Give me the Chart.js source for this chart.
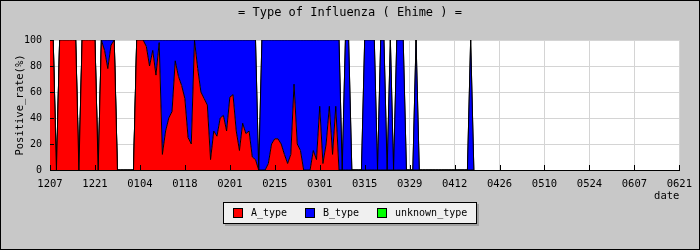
<!DOCTYPE html>
<html>
<head>
<meta charset="utf-8">
<script src="https://cdn.jsdelivr.net/npm/chart.js@4.4.0/dist/chart.umd.min.js"></script>
<style>
  html, body { margin: 0; padding: 0; background: #c8c8c8; }
</style>
</head>
<body>
<canvas id="chart" width="700" height="250"></canvas>
<script>
// one value per day, starting 12/07 (day 0)
const tickLabels = ['1207', '1221', '0104', '0118', '0201', '0215', '0301', '0315',
    '0329', '0412', '0426', '0510', '0524', '0607', '0621'];
const seriesNames = ['A_type', 'B_type', 'unknown_type'];
const seriesColors = ['#ff0000', '#0000ff', '#00ff00'];

const aType = [
    100, 100, 0, 100, 100, 100, 100,
    100, 100, 0, 100, 100, 100, 100,
    100, 0, 100, 92, 78, 96, 100,
    0, 0, 0, 0, 0, 0, 100,
    100, 100, 95, 80, 92, 73, 98,
    12, 30, 40, 45, 84, 72, 65,
    55, 25, 20, 100, 78, 60, 55,
    50, 8, 30, 26, 40, 42, 30,
    56, 58, 30, 15, 36, 28, 30,
    10, 8, 0, 0, 0, 5, 20,
    24, 24, 20, 12, 5, 12, 66,
    20, 15, 0, 0, 0, 15, 8,
    49, 5, 20, 49, 12, 49, 0,
    0, 0, 0, 0, 0, 0, 0,
    0, 0, 0, 0, 0, 0, 0,
    0, 0, 0, 0, 0, 0, 0,
    0, 0, 0, 0, 0, 0, 0,
    0, 0, 0, 0, 0, 0, 0,
    0, 0, 0, 0, 0, 0, 0
];
const bType = [
    0, 0, 0, 0, 0, 0, 0,
    0, 0, 0, 0, 0, 0, 0,
    0, 0, 0, 8, 22, 4, 0,
    0, 0, 0, 0, 0, 0, 0,
    0, 0, 5, 20, 8, 27, 2,
    88, 70, 60, 55, 16, 28, 35,
    45, 75, 80, 0, 22, 40, 45,
    50, 92, 70, 74, 60, 58, 70,
    44, 42, 70, 85, 64, 72, 70,
    90, 92, 0, 100, 100, 95, 80,
    76, 76, 80, 88, 95, 88, 34,
    80, 85, 100, 100, 100, 85, 92,
    51, 95, 80, 51, 88, 51, 100,
    0, 100, 100, 0, 0, 0, 0,
    100, 100, 100, 100, 0, 100, 100,
    0, 100, 0, 100, 100, 100, 0,
    0, 0, 100, 0, 0, 0, 0,
    0, 0, 0, 0, 0, 0, 0,
    0, 0, 0, 0, 0, 100, 0
];
const unknownType = [
    0, 0, 0, 0, 0, 0, 0,
    0, 0, 0, 0, 0, 0, 0,
    0, 0, 0, 0, 0, 0, 0,
    0, 0, 0, 0, 0, 0, 0,
    0, 0, 0, 0, 0, 0, 0,
    0, 0, 0, 0, 0, 0, 0,
    0, 0, 0, 0, 0, 0, 0,
    0, 0, 0, 0, 0, 0, 0,
    0, 0, 0, 0, 0, 0, 0,
    0, 0, 0, 0, 0, 0, 0,
    0, 0, 0, 0, 0, 0, 0,
    0, 0, 0, 0, 0, 0, 0,
    0, 0, 0, 0, 0, 0, 0,
    0, 0, 0, 0, 0, 0, 0,
    0, 0, 0, 0, 0, 0, 0,
    0, 0, 0, 0, 0, 0, 0,
    0, 0, 0, 0, 0, 0, 0,
    0, 0, 0, 0, 0, 0, 0,
    0, 0, 0, 0, 0, 0, 0
];

const MONO = "'DejaVu Sans Mono', monospace";
Chart.defaults.font.family = MONO;
Chart.defaults.color = '#000';

const toPoints = arr => arr.map((v, i) => ({ x: i, y: v }));

// background, frame, inward ticks and the boxed legend
const decor = {
    id: 'decor',
    beforeDraw(chart) {
        const { ctx, chartArea: a } = chart;
        ctx.save();
        ctx.fillStyle = '#c8c8c8';
        ctx.fillRect(0, 0, chart.width, chart.height);
        ctx.fillStyle = '#ffffff';
        ctx.fillRect(a.left, a.top, a.right - a.left, a.bottom - a.top);
        ctx.restore();
    },
    afterDraw(chart) {
        const { ctx, chartArea: a, scales: { x, y } } = chart;
        ctx.save();
        ctx.strokeStyle = '#000';
        ctx.lineWidth = 1;
        ctx.strokeRect(0.5, 0.5, chart.width - 1, chart.height - 1);

        ctx.beginPath();
        y.ticks.forEach(t => {
            const py = Math.round(y.getPixelForValue(t.value)) + 0.5;
            ctx.moveTo(a.left, py);
            ctx.lineTo(a.left + 4, py);
        });
        x.ticks.forEach(t => {
            const px = Math.round(x.getPixelForValue(t.value)) + 0.5;
            ctx.moveTo(px, a.bottom);
            ctx.lineTo(px, a.bottom - 5);
        });
        ctx.stroke();

        // legend box
        const bx = 223, by = 202, bw = 254, bh = 22;
        ctx.fillStyle = '#a0a0a0';
        ctx.fillRect(bx + 2, by + 2, bw, bh);
        ctx.fillStyle = '#f0f0f0';
        ctx.fillRect(bx, by, bw, bh);
        ctx.strokeRect(bx + 0.5, by + 0.5, bw - 1, bh - 1);
        const itemX = [233, 305, 377];
        ctx.font = '10px ' + MONO;
        ctx.textBaseline = 'middle';
        ctx.textAlign = 'left';
        chart.data.datasets.forEach((ds, i) => {
            ctx.fillStyle = ds.backgroundColor;
            ctx.fillRect(itemX[i], by + 6, 10, 10);
            ctx.strokeRect(itemX[i] + 0.5, by + 6.5, 9, 9);
            ctx.fillStyle = '#000';
            ctx.fillText(ds.label, itemX[i] + 18, by + 11.5);
        });
        ctx.restore();
    }
};

const series = [aType, bType, unknownType];

new Chart(document.getElementById('chart'), {
    type: 'line',
    data: {
        datasets: series.map((arr, i) => ({
            label: seriesNames[i],
            data: toPoints(arr),
            backgroundColor: seriesColors[i],
            borderColor: '#000',
            borderWidth: 1,
            pointRadius: 0,
            tension: 0,
            fill: i === 0 ? 'origin' : '-1'
        }))
    },
    options: {
        responsive: false,
        animation: false,
        events: [],
        layout: { padding: { left: 10, right: 10, top: 0, bottom: 47 } },
        plugins: {
            legend: { display: false },
            tooltip: { enabled: false },
            title: {
                display: true,
                text: '= Type of Influenza ( Ehime ) =',
                font: { family: MONO, size: 12, weight: 'normal' },
                color: '#000',
                padding: { top: 6, bottom: 19.6 }
            }
        },
        scales: {
            x: {
                type: 'linear',
                min: 0,
                max: 196,
                afterFit: s => { s.height = 33; },
                ticks: {
                    stepSize: 14,
                    maxRotation: 0,
                    autoSkip: false,
                    padding: 8,
                    font: { size: 10.5 },
                    callback: v => tickLabels[Math.round(v / 14)]
                },
                grid: { color: '#d4d4d4', drawTicks: false },
                border: { color: '#000' },
                title: {
                    display: true,
                    text: 'date',
                    align: 'end',
                    font: { size: 10.5 },
                    padding: { top: 0, bottom: 0 }
                }
            },
            y: {
                stacked: true,
                min: 0,
                max: 100,
                afterFit: s => { s.width = 40; },
                ticks: {
                    stepSize: 10,
                    padding: 8,
                    font: { size: 10 },
                    callback: v => (v % 20 === 0 ? v : '')
                },
                grid: {
                    drawTicks: false,
                    color: c => (c.tick && c.tick.value % 20 === 0 ? '#d4d4d4' : 'rgba(0,0,0,0)')
                },
                border: { color: '#000' },
                title: {
                    display: true,
                    text: 'Positive_rate(%)',
                    font: { size: 10.5 },
                    padding: { top: 3.5, bottom: 0 }
                }
            },
            yRight: {
                position: 'right',
                afterFit: s => { s.width = 10; },
                ticks: { display: false },
                grid: { display: false, drawTicks: false },
                border: { display: false }
            }
        }
    },
    plugins: [decor]
});
</script>
</body>
</html>
